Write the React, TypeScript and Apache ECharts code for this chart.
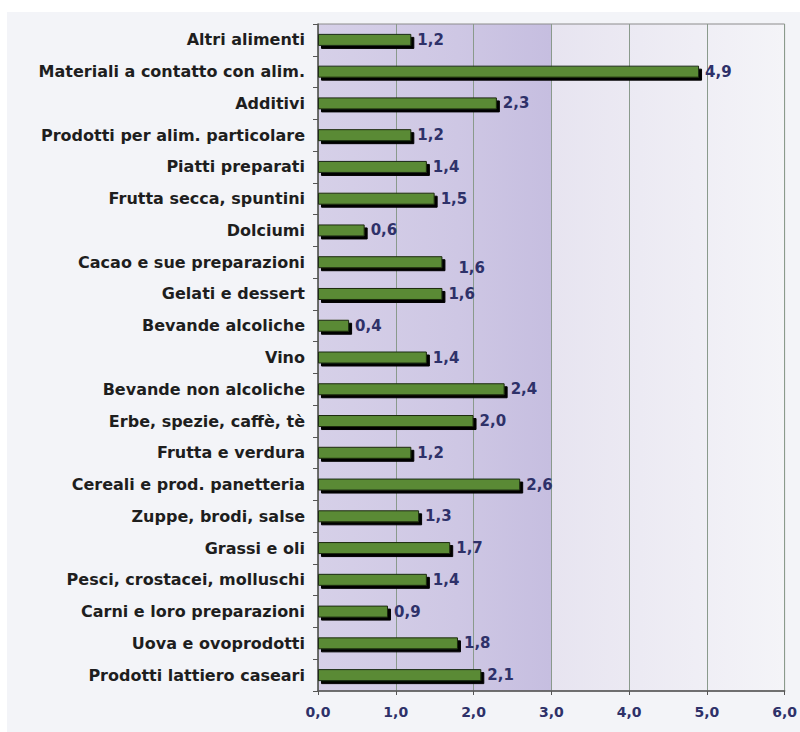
import React, { useEffect, useRef } from "react";
import * as echarts from "echarts";

const categories = [
  "Altri alimenti",
  "Materiali a contatto con alim.",
  "Additivi",
  "Prodotti per alim. particolare",
  "Piatti preparati",
  "Frutta secca, spuntini",
  "Dolciumi",
  "Cacao e sue preparazioni",
  "Gelati e dessert",
  "Bevande alcoliche",
  "Vino",
  "Bevande non alcoliche",
  "Erbe, spezie, caffè, tè",
  "Frutta e verdura",
  "Cereali e prod. panetteria",
  "Zuppe, brodi, salse",
  "Grassi e oli",
  "Pesci, crostacei, molluschi",
  "Carni e loro preparazioni",
  "Uova e ovoprodotti",
  "Prodotti lattiero caseari",
];

const values = [1.2, 4.9, 2.3, 1.2, 1.4, 1.5, 0.6, 1.6, 1.6, 0.4, 1.4, 2.4, 2.0, 1.2, 2.6, 1.3, 1.7, 1.4, 0.9, 1.8, 2.1];

const xTicks = [0, 1, 2, 3, 4, 5, 6];

const FONT = "DejaVu Sans";

export default function App() {
  const ref = useRef<HTMLDivElement>(null);

  useEffect(() => {
    if (!ref.current) return;
    const chart = echarts.init(ref.current, null, { renderer: "svg" });
    const data = values.map((v, i) => {
      const item: any = { value: v };
      if (categories[i] === "Cacao e sue preparazioni") {
        item.label = { offset: [10, 6] };
      }
      return item;
    });
    chart.setOption({
      animation: false,
      backgroundColor: "#f3f4f8",
      grid: {
        left: 311,
        right: 11,
        top: 12,
        bottom: 41,
        show: true,
        borderColor: "#8c8c8c",
        borderWidth: 1,
        backgroundColor: {
          type: "linear",
          x: 0,
          y: 0,
          x2: 1,
          y2: 0,
          colorStops: [
            { offset: 0, color: "#d6d0e8" },
            { offset: 0.3, color: "#cec7e4" },
            { offset: 0.5, color: "#c6bee0" },
            { offset: 0.5, color: "#e7e4f0" },
            { offset: 1, color: "#f4f4f8" },
          ],
        },
      },
      xAxis: {
        type: "value",
        min: xTicks[0],
        max: xTicks[xTicks.length - 1],
        interval: 1,
        axisLine: { show: true, lineStyle: { color: "#555", width: 1.5 } },
        axisTick: { show: true, length: 4, lineStyle: { color: "#555" } },
        splitLine: { show: true, lineStyle: { color: "#8a9a8c", width: 1 } },
        axisLabel: {
          margin: 14,
          color: "#2e3169",
          fontFamily: FONT,
          fontWeight: "bold",
          fontSize: 14,
          formatter: (v: number) => v.toFixed(1).replace(".", ","),
        },
      },
      yAxis: {
        type: "category",
        data: categories,
        inverse: true,
        axisLine: { show: true, lineStyle: { color: "#555", width: 1.5 } },
        axisTick: { show: true, length: 5, lineStyle: { color: "#555" } },
        axisLabel: {
          margin: 13,
          color: "#1e1e1e",
          fontFamily: FONT,
          fontWeight: "bold",
          fontSize: 16,
        },
      },
      series: [
        {
          type: "bar",
          data,
          barWidth: 12,
          itemStyle: {
            color: "#5a8a35",
            borderColor: "#1d2a12",
            borderWidth: 1,
            shadowColor: "#000",
            shadowOffsetX: 3,
            shadowOffsetY: 3,
            shadowBlur: 0,
          },
          label: {
            show: true,
            position: "right",
            distance: 6,
            color: "#2e3169",
            fontFamily: FONT,
            fontWeight: "bold",
            fontSize: 15,
            formatter: (p: any) => Number(p.value).toFixed(1).replace(".", ","),
          },
        },
      ],
    });
    return () => chart.dispose();
  }, []);

  return (
    <div style={{ position: "fixed", left: 0, top: 0, width: 800, height: 732, background: "#ffffff" }}>
      <div
        ref={ref}
        style={{ position: "absolute", left: 7, top: 12, width: 793, height: 720 }}
      />
    </div>
  );
}
